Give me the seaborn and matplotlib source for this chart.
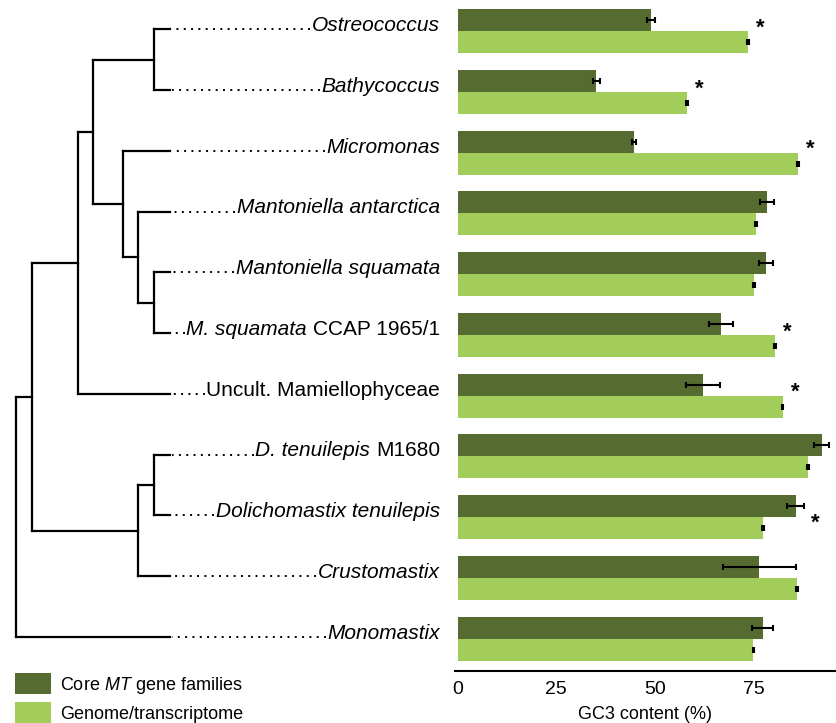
import pandas as pd
import matplotlib
matplotlib.use("Agg")
import matplotlib.pyplot as plt
from matplotlib.patches import Patch
import seaborn as sns

# species in tree order (top -> bottom)
species = ["Ostreococcus", "Bathycoccus", "Micromonas", "Mantoniella antarctica",
           "Mantoniella squamata", "M. squamata CCAP 1965/1", "Uncult. Mamiellophyceae",
           "D. tenuilepis M1680", "Dolichomastix tenuilepis", "Crustomastix", "Monomastix"]
# tip labels split into italic part and roman part
tip_italic = ["Ostreococcus", "Bathycoccus", "Micromonas", "Mantoniella antarctica",
              "Mantoniella squamata", "M. squamata", "", "D. tenuilepis",
              "Dolichomastix tenuilepis", "Crustomastix", "Monomastix"]
tip_roman = ["", "", "", "", "", "CCAP 1965/1", "Uncult. Mamiellophyceae", "M1680",
             "", "", ""]

# GC3 content (%)
core_gc3 = [49.1, 35.2, 44.7, 78.5, 78.2, 66.8, 62.3, 92.4, 85.7, 76.5, 77.4]
core_err = [1.0, 0.8, 0.6, 1.7, 1.8, 3.0, 4.3, 1.9, 2.1, 9.2, 2.7]
genome_gc3 = [73.6, 58.2, 86.3, 75.7, 75.2, 80.5, 82.4, 88.8, 77.5, 86.0, 75.0]
genome_err = [0.2, 0.2, 0.2, 0.2, 0.2, 0.2, 0.2, 0.2, 0.2, 0.2, 0.2]
significant = [True, True, True, False, False, True, True, False, True, False, False]

series_names = ["Core MT gene families", "Genome/transcriptome"]
legend_labels = [r"Core $\mathit{MT}$ gene families", "Genome/transcriptome"]
colors = ["#556B2F", "#A2CD5A"]

# tree topology: node -> (child, child, depth); ints are tips
tree = {
    "ostreo_bathy": (0, 1, 154),
    "squamata": (4, 5, 154),
    "mantoniella": (3, "squamata", 138),
    "micro_mant": (2, "mantoniella", 123),
    "core": ("ostreo_bathy", "micro_mant", 93),
    "mamiello": ("core", 6, 78),
    "dolicho": (7, 8, 154),
    "crusto": ("dolicho", 9, 138),
    "ingroup": ("mamiello", "crusto", 32),
    "root": ("ingroup", 10, 16),
}
tip_depth = 170

sns.set_style("white")
plt.rcParams["font.family"] = ["Liberation Sans", "DejaVu Sans"]
plt.rcParams["mathtext.fontset"] = "custom"
plt.rcParams["mathtext.rm"] = "Liberation Sans"
plt.rcParams["mathtext.it"] = "Liberation Sans:italic"
plt.rcParams["text.color"] = "black"
plt.rcParams["axes.labelcolor"] = "black"
plt.rcParams["xtick.color"] = "black"

df = pd.DataFrame({
    "species": species * 2,
    "gc3": core_gc3 + genome_gc3,
    "set": [series_names[0]] * len(species) + [series_names[1]] * len(species),
})

fig = plt.figure(figsize=(8.36, 7.23), dpi=100)
ax = fig.add_axes([0.5446, 0.0719, 0.4542, 0.928])
ax_tree = fig.add_axes([0.0, 0.0719, 0.5446, 0.928])

sns.barplot(data=df, x="gc3", y="species", hue="set", order=species,
            hue_order=series_names, palette=colors, saturation=1,
            width=0.724, errorbar=None, orient="h", legend=False,
            linewidth=0, edgecolor="none", ax=ax)

for cont, err in zip(ax.containers, [core_err, genome_err]):
    xs = [b.get_width() for b in cont]
    ys = [b.get_y() + b.get_height() / 2 for b in cont]
    ax.errorbar(xs, ys, xerr=err, fmt="none", ecolor="black",
                elinewidth=1.5, capsize=2.2, capthick=1.5)

# significance stars, nudged toward the shorter bar of the pair
for i, sig in enumerate(significant):
    if sig:
        xpos = max(core_gc3[i] + core_err[i], genome_gc3[i] + genome_err[i]) + 3
        dy = -0.05 if genome_gc3[i] > core_gc3[i] else 0.1
        ax.text(xpos, i + dy, "*", ha="center", va="center",
                fontsize=16, fontweight="bold")

ax.set_xlim(-0.6, 95.7)
ax.set_ylim(10.53, -0.51)
ax.set_xticks([0, 25, 50, 75])
ax.tick_params(axis="x", labelsize=14, length=4, width=1.5, pad=3, colors="black")
ax.set_yticks([])
ax.set_ylabel("")
ax.set_xlabel("GC3 content (%)", fontsize=13, labelpad=6)
for s in ["left", "right", "top"]:
    ax.spines[s].set_visible(False)
ax.spines["bottom"].set_linewidth(1.5)
ax.spines["bottom"].set_color("black")

# tree
ypos = {i: i - 0.03 for i in range(len(species))}
xpos = {i: tip_depth for i in range(len(species))}


def place(node):
    if node in ypos:
        return ypos[node]
    a, b, d = tree[node]
    ypos[node] = (place(a) + place(b)) / 2
    xpos[node] = d
    return ypos[node]


place("root")
for node, (a, b, d) in tree.items():
    ax_tree.plot([d, d], [ypos[a], ypos[b]], color="black", lw=1.6,
                 solid_capstyle="projecting")
    for c in (a, b):
        ax_tree.plot([d, xpos[c]], [ypos[c], ypos[c]],
                     color="black", lw=1.6, solid_capstyle="projecting")

ax_tree.set_xlim(0, 455.3)
ax_tree.set_ylim(10.53, -0.51)
ax_tree.axis("off")

# tip labels: roman part right-aligned first, italic part to its left
fig.canvas.draw()
inv = ax_tree.transData.inverted()
space = 5.8
label_left = []
for i in range(len(species)):
    right = 440
    left = right
    if tip_roman[i]:
        t = ax_tree.text(right, i, tip_roman[i], ha="right", va="baseline", fontsize=15)
        fig.canvas.draw()
        left = inv.transform((t.get_window_extent().x0, 0))[0]
        right = left - space
    if tip_italic[i]:
        t = ax_tree.text(right, i, tip_italic[i], ha="right", va="baseline",
                         fontsize=15, style="italic")
        fig.canvas.draw()
        left = inv.transform((t.get_window_extent().x0, 0))[0]
    label_left.append(left)

# dotted leaders, pattern anchored at the label end
for i in range(len(species)):
    ax_tree.plot([label_left[i] - 1.5, tip_depth + 2], [ypos[i], ypos[i]], color="black",
                 lw=1.4, linestyle=(0, (1, 2.76)))

handles = [Patch(facecolor=c, edgecolor="none") for c in colors]
fig.legend(handles, legend_labels, loc="lower left", bbox_to_anchor=(0.018, 0.0),
           frameon=False, fontsize=13, handlelength=2.0, handleheight=1.4,
           handletextpad=0.5, labelspacing=0.35, borderpad=0, borderaxespad=0)

fig.savefig("out.png", dpi=100)
